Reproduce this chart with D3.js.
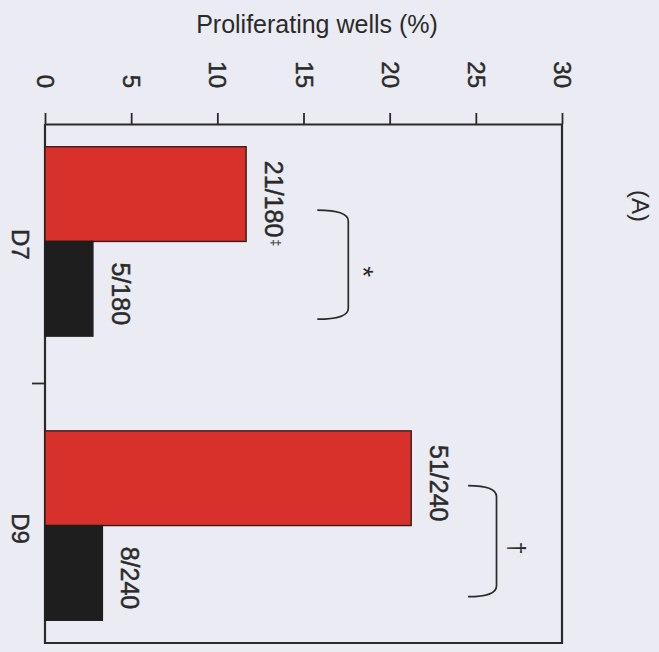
<!DOCTYPE html>
<html>
<head>
<meta charset="utf-8">
<script src="https://cdn.jsdelivr.net/npm/d3@7"></script>
<style>
    body { margin: 0; background: #ebebf3; }
    svg { display: block; font-family: "Liberation Sans", Arial, sans-serif; }
    .heavy { stroke: #2a2a2a; stroke-width: 0.45px; }
</style>
</head>
<body>
<div id="chart"></div>
<script>

// chart values
const categories = ["D7", "D9"];
const seriesKeys = ["red", "black"];
const redValues = [11.67, 21.25];
const blackValues = [2.78, 3.33];
const redLabels = ["21/180", "51/240"];
const blackLabels = ["5/180", "8/240"];
const redMarks = ["‡", ""];
const xTicks = [0, 5, 10, 15, 20, 25, 30];

// significance brackets (x in % units, y as fraction of the category band)
const brackets = [
    {cat: "D7", x0: 15.8, x1: 17.6, f0: 0.345, f1: 0.9, sign: "*", size: 28, off: 6},
    {cat: "D9", x0: 24.55, x1: 26.2, f0: 0.3, f1: 0.865, sign: "†", size: 23, off: 11}
];

const width = 659, height = 652;
const frame = {left: 45, top: 124, right: 562, bottom: 643};
const ink = "#2a2a2a";

let svg = d3.select("#chart").append("svg")
    .attr("width", width)
    .attr("height", height);

let x = d3.scaleLinear()
    .domain([0, 30])
    .range([frame.left, frame.right]);

let y = d3.scaleBand()
    .domain(categories)
    .range([frame.top, frame.bottom])
    .paddingInner(1 / 3)
    .paddingOuter(0.08);

let ySub = d3.scaleBand()
    .domain(seriesKeys)
    .range([0, y.bandwidth()]);

// build rows for the bars
let rows = [];
categories.forEach((c, i) => {
    rows.push({cat: c, key: "red", value: redValues[i], label: redLabels[i], mark: redMarks[i]});
    rows.push({cat: c, key: "black", value: blackValues[i], label: blackLabels[i], mark: ""});
});

// frame: left, right, bottom (top is the axis)
svg.append("path")
    .attr("d", `M${frame.left},${frame.top} V${frame.bottom} H${frame.right} V${frame.top}`)
    .attr("fill", "none")
    .attr("stroke", ink)
    .attr("stroke-width", 2.2);

// bars
svg.selectAll(".bar")
    .data(rows)
    .enter().append("rect")
    .attr("class", "bar")
    .attr("x", x(0))
    .attr("y", d => y(d.cat) + ySub(d.key))
    .attr("width", d => x(d.value) - x(0))
    .attr("height", ySub.bandwidth())
    .attr("fill", d => d.key === "red" ? "#d8302a" : "#1e1e1e")
    .attr("stroke", d => d.key === "red" ? "#3a1c18" : "#1e1e1e")
    .attr("stroke-width", 1.4);

// top value axis
let xAxis = d3.axisTop(x)
    .tickValues(xTicks)
    .tickSize(11)
    .tickSizeOuter(0);

let axisG = svg.append("g")
    .attr("transform", `translate(0, ${frame.top})`)
    .call(xAxis);

axisG.select(".domain").attr("stroke", ink).attr("stroke-width", 2.2);
axisG.selectAll(".tick line").attr("stroke", ink).attr("stroke-width", 1.8);
axisG.selectAll(".tick text")
    .attr("class", "heavy")
    .attr("transform", "rotate(90)")
    .attr("text-anchor", "end")
    .attr("x", -36)
    .attr("y", 0)
    .attr("dy", "0.35em")
    .attr("fill", ink)
    .style("font-size", "24px");

// separator tick between categories on the left
categories.slice(1).forEach(c => {
    let yy = y(c) - y.step() * y.paddingInner() / 2;
    svg.append("line")
        .attr("x1", frame.left - 13).attr("x2", frame.left)
        .attr("y1", yy).attr("y2", yy)
        .attr("stroke", ink).attr("stroke-width", 1.8);
});

// category labels
svg.selectAll(".cat")
    .data(categories)
    .enter().append("text")
    .attr("class", "cat heavy")
    .attr("transform", d => `translate(12, ${y(d) + y.bandwidth() / 2 + 3}) rotate(90)`)
    .attr("text-anchor", "middle")
    .attr("fill", ink)
    .style("font-size", "24px")
    .text(d => d);

// count labels at bar ends
svg.selectAll(".count")
    .data(rows)
    .enter().append("text")
    .attr("class", "count heavy")
    .attr("transform", d => `translate(${x(d.value) + 19}, ${y(d.cat) + ySub(d.key) + ySub.bandwidth() / 2 + 5}) rotate(90)`)
    .attr("text-anchor", "middle")
    .attr("fill", ink)
    .style("font-size", "25px")
    .text(d => d.label)
    .each(function(d) {
        if (!d.mark) return;
        let len = this.getComputedTextLength();
        svg.append("text")
            .attr("transform", `translate(${x(d.value) + 19}, ${y(d.cat) + ySub(d.key) + ySub.bandwidth() / 2 + 5 + len / 2 + 2}) rotate(90)`)
            .attr("text-anchor", "start")
            .attr("dy", "-0.55em")
            .attr("fill", ink)
            .style("font-size", "13px")
            .text(d.mark);
    });

// significance brackets
brackets.forEach(b => {
    let x0 = x(b.x0), x1 = x(b.x1);
    let y0 = y(b.cat) + b.f0 * y.bandwidth();
    let y1 = y(b.cat) + b.f1 * y.bandwidth();
    svg.append("path")
        .attr("d", `M${x0},${y0 - 2} Q${x1},${y0 - 2} ${x1},${y0 + 9} L${x1},${y1 - 9} Q${x1},${y1 + 2} ${x0},${y1 + 2}`)
        .attr("fill", "none")
        .attr("stroke", ink)
        .attr("stroke-width", 1.7);
    svg.append("text")
        .attr("transform", `translate(${x1 + b.off}, ${(y0 + y1) / 2 + 7}) rotate(90)`)
        .attr("text-anchor", "middle")
        .attr("fill", ink)
        .style("font-size", b.size + "px")
        .text(b.sign);
});

// title (horizontal in the scan)
svg.append("text")
    .attr("x", 317)
    .attr("y", 33)
    .attr("text-anchor", "middle")
    .attr("fill", ink)
    .style("font-size", "25px")
    .text("Proliferating wells (%)");

// panel letter
svg.append("text")
    .attr("transform", "translate(632, 206) rotate(90)")
    .attr("text-anchor", "middle")
    .attr("fill", ink)
    .style("font-size", "24px")
    .text("(A)");

</script>
</body>
</html>
